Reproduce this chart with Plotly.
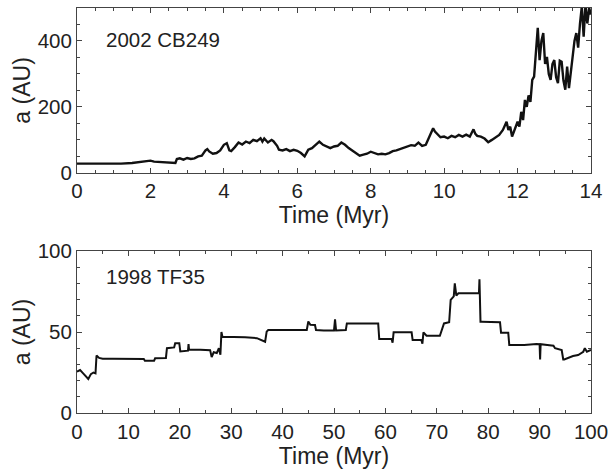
import plotly.graph_objects as go

# 2002 CB249: semimajor axis vs time (Myr)
t_cb = [
    0.0, 0.3, 0.6, 0.9, 1.2, 1.5, 1.7, 1.9, 2.0, 2.1,
    2.3, 2.5, 2.68, 2.72, 2.8, 2.9, 3.0, 3.1, 3.2, 3.3,
    3.4, 3.5, 3.55, 3.6, 3.7, 3.8, 3.9, 4.0, 4.08, 4.15,
    4.2, 4.3, 4.4, 4.5, 4.6, 4.7, 4.8, 4.9, 5.0, 5.05,
    5.1, 5.2, 5.3, 5.35, 5.45, 5.5, 5.6, 5.7, 5.8, 5.9,
    6.0, 6.1, 6.2, 6.3, 6.4, 6.5, 6.6, 6.7, 6.8, 6.9,
    7.0, 7.1, 7.2, 7.3, 7.4, 7.5, 7.6, 7.7, 7.8, 7.9,
    8.0, 8.1, 8.2, 8.3, 8.4, 8.5, 8.6, 8.7, 8.8, 8.9,
    9.0, 9.1, 9.2, 9.3, 9.4, 9.5, 9.6, 9.7, 9.75, 9.8,
    9.9, 10.0, 10.1, 10.2, 10.3, 10.4, 10.5, 10.6, 10.7, 10.8,
    10.85, 10.9, 11.0, 11.1, 11.2, 11.3, 11.4, 11.5, 11.6, 11.7,
    11.75, 11.8, 11.85, 11.9, 12.0, 12.05, 12.1, 12.15, 12.2, 12.25,
    12.3, 12.35, 12.4, 12.45, 12.5, 12.55, 12.6, 12.65, 12.7, 12.75,
    12.8, 12.85, 12.9, 12.95, 13.0, 13.05, 13.1, 13.15, 13.2, 13.25,
    13.3, 13.35, 13.4, 13.45, 13.5, 13.55, 13.6, 13.65, 13.7, 13.75,
    13.8, 13.85, 13.9, 13.95, 14.0,
]
a_cb = [
    28, 28, 27, 28, 28, 30, 32, 35, 37, 34,
    33, 32, 30, 42, 44, 40, 45, 42, 44, 50,
    52, 68, 72, 65, 58, 60, 68, 85, 90, 68,
    66, 78, 92, 86, 95, 90, 100, 96, 105, 95,
    104, 92, 100, 96, 82, 70, 68, 72, 66, 70,
    67, 60, 50, 70, 75, 85, 95, 85, 80, 75,
    80, 82, 92, 85, 75, 68, 60, 52, 55, 58,
    64, 60, 56, 58, 56, 60, 66, 68, 72, 74,
    78, 84, 82, 92, 82, 85, 110, 135, 125, 120,
    108, 110, 105, 112, 108, 115, 110, 116, 110, 132,
    118, 112, 110, 104, 93, 100, 108, 115, 130, 155,
    130, 140, 110, 125, 155, 140, 185, 160, 221, 200,
    235, 215, 282, 292, 373, 440, 342, 400, 424, 330,
    352, 300, 282, 330, 342, 290, 272, 340, 337, 280,
    252, 322, 257, 300, 359, 400, 424, 380, 453, 505,
    413, 510, 453, 500, 480,
]

# 1998 TF35: step-like evolution
t_tf = [
    0.0, 0.6, 1.2, 1.7, 2.2, 2.7, 3.2, 3.6, 3.8, 4.3,
    5.0, 7.0, 10.0, 13.0, 13.2, 15.0, 15.2, 17.3, 17.5, 18.9,
    19.1, 19.9, 20.1, 21.6, 21.7, 21.8, 24.0, 25.9, 26.2, 26.6,
    27.2, 27.6, 27.9, 28.0, 28.1, 28.3, 30.0, 32.7, 35.0, 36.6,
    36.9, 37.2, 40.0, 44.7, 45.0, 45.4, 46.3, 46.5, 48.0, 50.0,
    50.2, 50.4, 52.3, 52.5, 55.0, 58.6, 58.8, 61.2, 61.4, 61.6,
    63.0, 65.1, 65.3, 67.0, 67.2, 67.4, 68.0, 70.6, 71.4, 72.4,
    72.7, 73.3, 73.5, 73.8, 74.2, 76.0, 78.2, 78.3, 78.5, 78.7,
    80.5, 82.3, 82.5, 83.9, 84.1, 87.0, 89.4, 90.0, 90.1, 90.2,
    91.5, 92.7, 93.0, 94.3, 94.6, 94.8, 96.5, 97.5, 98.5, 98.8,
    99.2, 100.0,
]
a_tf = [
    25.5, 26.5, 24.5, 23.0, 21.0, 24.0, 25.0, 24.5, 35.5, 34.0,
    33.5, 33.5, 33.5, 33.3, 32.3, 32.3, 33.8, 34.0, 40.0, 40.5,
    43.0, 43.0, 38.0, 38.5, 42.5, 39.0, 39.0, 38.8, 34.5, 37.5,
    37.0, 40.0, 36.0, 48.0, 50.0, 47.0, 47.0, 46.8, 46.2, 44.0,
    50.2, 51.2, 51.2, 51.2, 56.5, 54.5, 54.3, 51.2, 51.0, 51.0,
    57.8, 51.0, 51.2, 55.3, 55.3, 55.3, 45.7, 45.7, 43.4, 49.8,
    49.8, 49.8, 45.0, 45.0, 42.8, 49.8, 47.7, 47.7, 55.3, 56.0,
    69.8, 72.0, 80.0, 72.5, 73.9, 73.9, 73.9, 82.5, 56.4, 56.4,
    56.0, 56.0, 49.6, 49.6, 42.0, 42.0, 42.6, 42.5, 33.0, 42.5,
    42.0, 41.5, 40.0, 38.9, 33.1, 33.1, 35.2, 35.8, 37.8, 40.0,
    37.8, 38.9,
]

assert len(t_cb) == len(a_cb) and len(t_tf) == len(a_tf)

FONT = "Liberation Sans, Arial, sans-serif"
TEXT = "#222222"
FRAME = "#444444"

fig = go.Figure()
fig.add_trace(go.Scatter(x=t_cb, y=a_cb, mode="lines",
                         line=dict(color="#111111", width=2.4),
                         xaxis="x", yaxis="y", showlegend=False))
fig.add_trace(go.Scatter(x=t_tf, y=a_tf, mode="lines",
                         line=dict(color="#111111", width=2),
                         xaxis="x2", yaxis="y2", showlegend=False))

def axis(dtick, minor, rng, title, domain=None, anchor=None, standoff=0):
    d = dict(
        range=rng, dtick=dtick, tick0=0, automargin=False,
        ticklabeloverflow="allow",
        ticks="inside", ticklen=5, tickwidth=1, tickcolor=FRAME,
        minor=dict(dtick=minor, ticks="inside", ticklen=3, tickcolor=FRAME),
        showline=True, linecolor=FRAME, linewidth=1, mirror="ticks",
        showgrid=False, zeroline=False,
        tickfont=dict(size=20.5, color=TEXT, family=FONT),
        title=dict(text=title, font=dict(size=23, color=TEXT, family=FONT), standoff=standoff),
    )
    if domain is not None:
        d["domain"] = domain
    if anchor is not None:
        d["anchor"] = anchor
    return d

fig.update_layout(
    width=608, height=470,
    margin=dict(l=77, r=17, t=8, b=57),
    plot_bgcolor="white", paper_bgcolor="white",
    font=dict(family=FONT, color=TEXT),
    xaxis=axis(2, 0.5, [0, 14], "Time (Myr)", anchor="y"),
    yaxis=axis(200, 50, [0, 500], "a (AU)", domain=[0.593, 1.0], anchor="x"),
    xaxis2=axis(10, 5, [0, 100], "Time (Myr)", anchor="y2"),
    yaxis2=axis(50, 10, [0, 100], "a (AU)", domain=[0.0, 0.4], anchor="x2"),
    annotations=[
        dict(text="2002 CB249", xref="x domain", yref="y domain",
             x=0.052, y=0.806, xanchor="left", yanchor="middle", showarrow=False,
             font=dict(size=20.5, color=TEXT, family=FONT)),
        dict(text="1998 TF35", xref="x2 domain", yref="y2 domain",
             x=0.052, y=0.84, xanchor="left", yanchor="middle", showarrow=False,
             font=dict(size=20.5, color=TEXT, family=FONT)),
    ],
)

# the page body has a default 8px margin; drop it so the figure sits at 0,0
fig.write_html("out.html", config={"displayModeBar": False},
               post_script="document.body.style.margin='0';")
